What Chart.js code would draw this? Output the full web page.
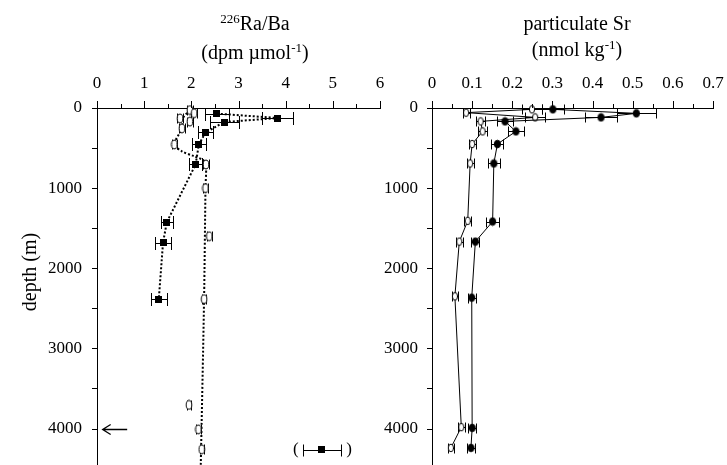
<!DOCTYPE html>
<html>
<head>
<meta charset="utf-8">
<script src="https://cdn.jsdelivr.net/npm/chart.js@4"></script>
<style>
  html, body { margin: 0; padding: 0; background: #fff; }
  #wrap { position: relative; width: 727px; height: 465px; overflow: hidden;
          font-family: 'Liberation Serif', 'Times New Roman', serif; color: #000; }
  #wrap canvas { position: absolute; top: 0; }
  .ttl { position: absolute; width: 200px; font-size: 20px; line-height: 26px;
         text-align: center; white-space: nowrap; }
  .ttl sup { font-size: 13px; vertical-align: 0; position: relative; top: -7px; }
  #ylab { position: absolute; left: -31px; top: 259px; width: 120px; height: 26px;
          font-size: 20px; line-height: 26px; text-align: center; white-space: nowrap;
          transform: rotate(-90deg); transform-origin: 50% 50%; }
</style>
</head>
<body>
<div id="wrap">
  <canvas id="raChart" width="400" height="465" style="left:0px"></canvas>
  <canvas id="srChart" width="397" height="465" style="left:330px"></canvas>
  <div class="ttl" style="left:155px; top:10px"><sup>226</sup>Ra/Ba<br>(dpm µmol<sup>-1</sup>)</div>
  <div class="ttl" style="left:477px; top:10px">particulate Sr<br>(nmol kg<sup>-1</sup>)</div>
  <div id="ylab">depth (m)</div>
</div>
<script>
// ---- 226Ra/Ba, particulate (filled squares) ----
const raSqDepth = [70, 125, 175, 305, 455, 705, 1425, 1680, 2385];
const raSq      = [2.54, 3.83, 2.70, 2.30, 2.16, 2.09, 1.48, 1.40, 1.31];
const raSqErr   = [0.25, 0.33, 0.30, 0.16, 0.15, 0.14, 0.13, 0.16, 0.17];

// ---- 226Ra/Ba, dissolved (open circles) ----
const raCiDepth = [25, 65, 130, 170, 255, 455, 705, 1000, 1600, 2385, 3705, 4010, 4260];
const raCi      = [1.97, 2.06, 1.76, 1.97, 1.80, 1.64, 2.31, 2.30, 2.38, 2.27, 1.95, 2.15, 2.22];
const raCiErr   = [0.06, 0.06, 0.06, 0.06, 0.06, 0.06, 0.07, 0.05, 0.05, 0.05, 0.045, 0.045, 0.045];

// dotted profile through the dissolved ratios
const raFitDepth = [25, 130, 255, 455, 540, 600, 650, 705, 1000, 2385, 4460];
const raFit      = [1.97, 1.82, 1.80, 1.64, 1.80, 2.05, 2.25, 2.31, 2.30, 2.27, 2.20];

// typical error bar shown in brackets
const raKeyDepth = [4262];
const raKey      = [4.77];
const raKeyErr   = [0.41];

// arrow marking the reference depth
const arrowDepth = 4000;
const arrowFrom  = 0.64;
const arrowTo    = 0.12;

// ---- particulate Sr ----
const srFDepth = [17, 67, 117, 167, 292, 450, 692, 1417, 1667, 2367, 3992, 4242];
const srF      = [0.301, 0.509, 0.421, 0.182, 0.209, 0.163, 0.154, 0.151, 0.108, 0.099, 0.100, 0.097];
const srFErr   = [0.028, 0.049, 0.040, 0.019, 0.020, 0.015, 0.015, 0.016, 0.010, 0.010, 0.010, 0.010];

const srODepth = [17, 58, 117, 167, 292, 450, 692, 1408, 1667, 2350, 3983, 4242];
const srO      = [0.249, 0.085, 0.257, 0.121, 0.126, 0.100, 0.095, 0.089, 0.068, 0.057, 0.073, 0.047];
const srOErr   = [0.025, 0.009, 0.025, 0.011, 0.011, 0.009, 0.009, 0.009, 0.008, 0.008, 0.008, 0.008];

// axis ranges and tick values
const raTicksX   = [0, 0.5, 1, 1.5, 2, 2.5, 3, 3.5, 4, 4.5, 5, 5.5, 6];
const raLabelsX  = ['0', '', '1', '', '2', '', '3', '', '4', '', '5', '', '6'];
const srTicksX   = [0, 0.05, 0.1, 0.15, 0.2, 0.25, 0.3, 0.35, 0.4, 0.45, 0.5, 0.55, 0.6, 0.65, 0.7];
const srLabelsX  = ['0', '', '0.1', '', '0.2', '', '0.3', '', '0.4', '', '0.5', '', '0.6', '', '0.7'];
const depthTicks  = [0, 500, 1000, 1500, 2000, 2500, 3000, 3500, 4000];
const depthLabels = ['0', '', '1000', '', '2000', '', '3000', '', '4000'];
const depthMax = 4455;

const SERIF = "'Liberation Serif', 'Times New Roman', serif";
Chart.defaults.font.family = SERIF;
Chart.defaults.color = '#000';

function pts(xs, ys) { return xs.map((v, i) => ({ x: v, y: ys[i] })); }

// small canvas markers
function ellipseMarker(rx, ry, fill) {
  const c = document.createElement('canvas');
  c.width = Math.ceil(2 * rx + 2); c.height = Math.ceil(2 * ry + 2);
  const g = c.getContext('2d');
  g.beginPath();
  g.ellipse(c.width / 2, c.height / 2, rx, ry, 0, 0, Math.PI * 2);
  g.fillStyle = fill; g.fill();
  g.lineWidth = 1; g.strokeStyle = '#000'; g.stroke();
  return c;
}
function squareMarker(s) {
  const c = document.createElement('canvas');
  c.width = s; c.height = s;
  const g = c.getContext('2d');
  g.fillStyle = '#000'; g.fillRect(0, 0, s, s);
  return c;
}
const mkSquare = squareMarker(7);
const mkOpenRa = ellipseMarker(2.8, 4.4, '#fff');
const mkOpenSr = ellipseMarker(2.6, 3.8, '#fff');
const mkFillSr = ellipseMarker(3.1, 3.8, '#000');

// horizontal error bars with end caps, under the markers
const errorBars = {
  id: 'errorBars',
  beforeDatasetsDraw(chart) {
    const ctx = chart.ctx, xs = chart.scales.x;
    chart.data.datasets.forEach((ds, di) => {
      if (!ds.errX) return;
      const meta = chart.getDatasetMeta(di);
      ctx.save();
      ctx.strokeStyle = '#000'; ctx.lineWidth = 1;
      ctx.beginPath();
      meta.data.forEach((p, i) => {
        const v = ds.data[i].x, e = ds.errX[i];
        const x1 = Math.round(xs.getPixelForValue(v - e)) + 0.5;
        const x2 = Math.round(xs.getPixelForValue(v + e)) + 0.5;
        const y = Math.round(p.y) + 0.5, h = ds.capHalf;
        ctx.moveTo(x1, y); ctx.lineTo(x2, y);
        ctx.moveTo(x1, y - h); ctx.lineTo(x1, y + h);
        ctx.moveTo(x2, y - h); ctx.lineTo(x2, y + h);
      });
      ctx.stroke();
      ctx.restore();
    });
  }
};

// outward tick marks: long at labelled values, short in between
const axisTicks = {
  id: 'axisTicks',
  afterDraw(chart) {
    const ctx = chart.ctx, xs = chart.scales.x, ys = chart.scales.y, ca = chart.chartArea;
    ctx.save();
    ctx.strokeStyle = '#000'; ctx.lineWidth = 1;
    ctx.beginPath();
    xs.ticks.forEach(t => {
      const x = Math.round(xs.getPixelForValue(t.value)) + 0.5;
      const len = t.label !== '' ? 7 : 4;
      ctx.moveTo(x, ca.top); ctx.lineTo(x, ca.top - len);
    });
    ys.ticks.forEach(t => {
      const y = Math.round(ys.getPixelForValue(t.value)) + 0.5;
      ctx.moveTo(ca.left, y); ctx.lineTo(ca.left - 5, y);
    });
    ctx.stroke();
    ctx.restore();
  }
};

// arrow at the reference depth and brackets round the key error bar
const raExtras = {
  id: 'raExtras',
  afterDraw(chart) {
    const ctx = chart.ctx, xs = chart.scales.x, ys = chart.scales.y;
    ctx.save();
    ctx.strokeStyle = '#000'; ctx.fillStyle = '#000'; ctx.lineWidth = 1.3;
    const y = Math.round(ys.getPixelForValue(arrowDepth)) + 0.5;
    const xa = xs.getPixelForValue(arrowFrom), xb = xs.getPixelForValue(arrowTo);
    ctx.beginPath();
    ctx.moveTo(xa, y); ctx.lineTo(xb, y);
    ctx.moveTo(xb + 8, y - 5); ctx.lineTo(xb, y); ctx.lineTo(xb + 8, y + 5);
    ctx.stroke();

    const ky = ys.getPixelForValue(raKeyDepth[0]);
    const kl = xs.getPixelForValue(raKey[0] - raKeyErr[0]);
    const kr = xs.getPixelForValue(raKey[0] + raKeyErr[0]);
    ctx.font = '17px ' + SERIF;
    ctx.textBaseline = 'middle';
    ctx.textAlign = 'right'; ctx.fillText('(', kl - 4, ky);
    ctx.textAlign = 'left';  ctx.fillText(')', kr + 5, ky);
    ctx.restore();
  }
};

function fixedTicks(values, labels) {
  return function (scale) {
    scale.ticks = values.map((v, i) => ({ value: v, label: labels[i] }));
  };
}

function depthScale(yWidth, pad) {
  return {
    type: 'linear', reverse: true, bounds: 'data',
    min: 0, max: depthMax,
    afterBuildTicks: fixedTicks(depthTicks, depthLabels),
    afterFit(s) { s.width = yWidth; s.paddingTop = 0; s.paddingBottom = 0; },
    grid: { display: false, drawTicks: false },
    border: { display: true, color: '#000', width: 1 },
    ticks: {
      autoSkip: false, padding: pad, font: { size: 17 }, color: '#000',
      callback(v, i) { return depthLabels[i]; }
    }
  };
}
function topScale(values, labels) {
  return {
    type: 'linear', position: 'top', bounds: 'data',
    min: values[0], max: values[values.length - 1],
    afterBuildTicks: fixedTicks(values, labels),
    afterFit(s) { s.height = 108; s.paddingLeft = 0; s.paddingRight = 0; },
    grid: { display: false, drawTicks: false },
    border: { display: true, color: '#000', width: 1 },
    ticks: {
      autoSkip: false, maxRotation: 0, padding: 14, font: { size: 17 }, color: '#000',
      callback(v, i) { return labels[i]; }
    }
  };
}

const common = {
  responsive: false, animation: false, events: [],
  plugins: { legend: { display: false }, tooltip: { enabled: false } }
};

new Chart(document.getElementById('raChart'), {
  type: 'scatter',
  data: {
    datasets: [
      { data: pts(raCi, raCiDepth), errX: raCiErr, capHalf: 5, showLine: false,
        pointStyle: mkOpenRa, pointRadius: 4, clip: false },
      { data: pts(raSq, raSqDepth), errX: raSqErr, capHalf: 6.5, showLine: true,
        borderColor: '#000', borderWidth: 2, borderDash: [2, 2], tension: 0,
        pointStyle: mkSquare, pointRadius: 4, clip: false },
      { data: pts(raFit, raFitDepth), showLine: true, borderColor: '#000', borderWidth: 2,
        borderDash: [2, 2], tension: 0.3, pointRadius: 0, clip: false },
      { data: pts(raKey, raKeyDepth), errX: raKeyErr, capHalf: 6, showLine: false,
        pointStyle: mkSquare, pointRadius: 4, clip: false }
    ]
  },
  options: Object.assign({}, common, {
    layout: { autoPadding: false, padding: { left: 0, right: 20, top: 0, bottom: 0 } },
    scales: {
      x: topScale(raTicksX, raLabelsX),
      y: depthScale(97, 15)
    }
  }),
  plugins: [errorBars, axisTicks, raExtras]
});

new Chart(document.getElementById('srChart'), {
  type: 'scatter',
  data: {
    datasets: [
      { data: pts(srF, srFDepth), errX: srFErr, capHalf: 5, showLine: true,
        borderColor: '#000', borderWidth: 1, tension: 0,
        pointStyle: mkFillSr, pointRadius: 4, clip: false },
      { data: pts(srO, srODepth), errX: srOErr, capHalf: 5, showLine: true,
        borderColor: '#000', borderWidth: 1, tension: 0,
        pointStyle: mkOpenSr, pointRadius: 4, clip: false }
    ]
  },
  options: Object.assign({}, common, {
    layout: { autoPadding: false, padding: { left: 0, right: 14, top: 0, bottom: 0 } },
    scales: {
      x: topScale(srTicksX, srLabelsX),
      y: depthScale(102, 14)
    }
  }),
  plugins: [errorBars, axisTicks]
});
</script>
</body>
</html>
